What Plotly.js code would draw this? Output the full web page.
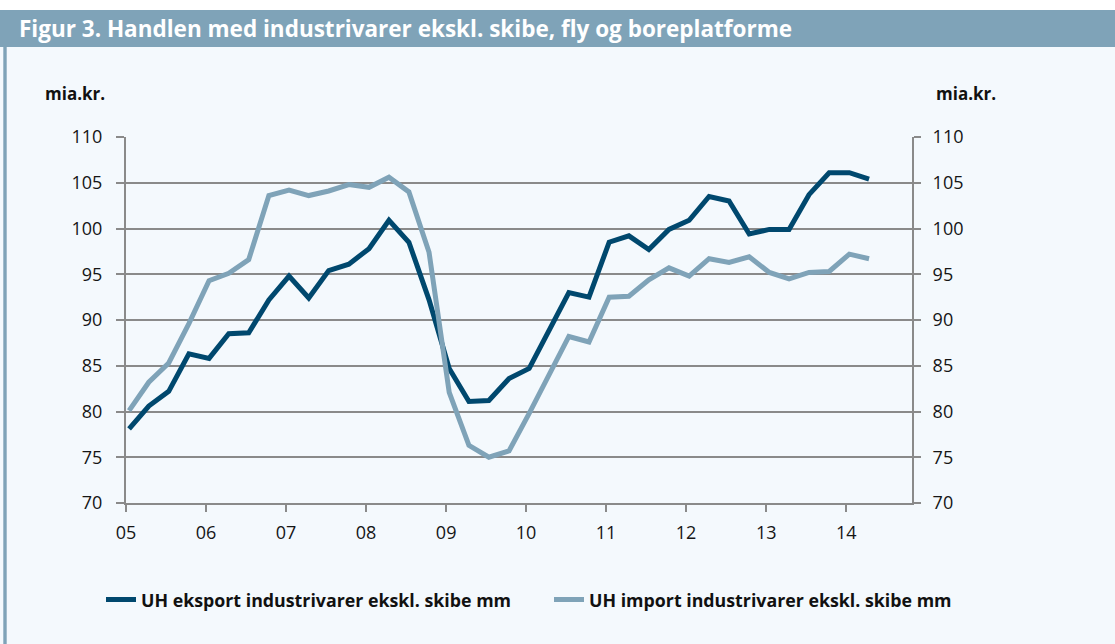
<!DOCTYPE html>
<html>
<head>
<meta charset="utf-8">
<script src="https://cdn.plot.ly/plotly-3.0.1.min.js"></script>
<style>
html,body{margin:0;padding:0;background:#ffffff;}
#chart{width:1115px;height:644px;}
</style>
</head>
<body>
<div id="chart"></div>
<script>
// Quarterly observations (mid-month of each quarter's first month)
const quarters = [
  '2005-01-15','2005-04-15','2005-07-15','2005-10-15',
  '2006-01-15','2006-04-15','2006-07-15','2006-10-15',
  '2007-01-15','2007-04-15','2007-07-15','2007-10-15',
  '2008-01-15','2008-04-15','2008-07-15','2008-10-15',
  '2009-01-15','2009-04-15','2009-07-15','2009-10-15',
  '2010-01-15','2010-04-15','2010-07-15','2010-10-15',
  '2011-01-15','2011-04-15','2011-07-15','2011-10-15',
  '2012-01-15','2012-04-15','2012-07-15','2012-10-15',
  '2013-01-15','2013-04-15','2013-07-15','2013-10-15',
  '2014-01-15','2014-04-15'
];
const eksport = [78.1, 80.6, 82.2, 86.3, 85.8, 88.5, 88.6, 92.2, 94.8, 92.4,
                 95.4, 96.1, 97.8, 100.9, 98.5, 92.2, 84.7, 81.1, 81.2, 83.6,
                 84.7, 88.9, 93.0, 92.5, 98.5, 99.2, 97.7, 99.9, 100.9, 103.5,
                 103.0, 99.4, 99.9, 99.9, 103.7, 106.1, 106.1, 105.4];
const importv = [80.1, 83.2, 85.3, 89.6, 94.3, 95.1, 96.6, 103.6, 104.2, 103.6,
                 104.1, 104.8, 104.5, 105.6, 104.0, 97.4, 82.1, 76.3, 75.0, 75.7,
                 79.8, 84.0, 88.2, 87.6, 92.5, 92.6, 94.4, 95.7, 94.8, 96.7,
                 96.3, 96.9, 95.2, 94.5, 95.2, 95.3, 97.2, 96.7];
const seriesNames = ['UH eksport industrivarer ekskl. skibe mm',
                     'UH import industrivarer ekskl. skibe mm'];
const yTicks = [70, 75, 80, 85, 90, 95, 100, 105, 110];
const xTickVals = ['2005-01-01','2006-01-01','2007-01-01','2008-01-01','2009-01-01',
                   '2010-01-01','2011-01-01','2012-01-01','2013-01-01','2014-01-01'];
const xTickText = ['05','06','07','08','09','10','11','12','13','14'];
const titleText = 'Figur 3. Handlen med industrivarer ekskl. skibe, fly og boreplatforme';
const unitLabel = 'mia.kr.';

const DARK = '#00486e';
const LIGHT = '#7fa3b8';
const BG = '#f4f9fd';
const GRID = '#8a8a8a';
const FONT = '"Open Sans", Lato, sans-serif';

const traces = [
  {x: quarters, y: eksport, name: seriesNames[0], type: 'scatter', mode: 'lines',
   line: {color: DARK, width: 5}, yaxis: 'y'},
  {x: quarters, y: importv, name: seriesNames[1], type: 'scatter', mode: 'lines',
   line: {color: LIGHT, width: 5}, yaxis: 'y'},
  {x: quarters, y: importv, showlegend: false, type: 'scatter', mode: 'lines',
   line: {color: 'rgba(0,0,0,0)', width: 0}, yaxis: 'y2', hoverinfo: 'skip'}
];

// pixel -> paper helpers for decorative frame
const L = 126, R = 203, T = 137, B = 141, W = 1115, H = 644;
const pw = W - L - R, ph = H - T - B;
const px = v => (v - L) / pw;
const py = v => (H - B - v) / ph;

const tickFont = {family: FONT, size: 18, color: '#151515'};

const layout = {
  width: W, height: H,
  margin: {l: L, r: R, t: T, b: B, pad: 0},
  paper_bgcolor: BG,
  plot_bgcolor: BG,
  title: {text: titleText, font: {family: FONT, size: 22.5, color: '#ffffff', weight: 'bold'},
          xref: 'container', yref: 'container', x: 19 / W, xanchor: 'left',
          y: 1 - 29 / H, yanchor: 'middle'},
  xaxis: {
    type: 'date', range: ['2005-01-01', '2014-10-28'],
    tickmode: 'array', tickvals: xTickVals, ticktext: xTickText,
    ticks: 'outside', ticklen: 7, tickwidth: 2, tickcolor: GRID,
    showline: true, linecolor: GRID, linewidth: 2,
    showgrid: false, zeroline: false, tickfont: tickFont, ticklabelstandoff: 5
  },
  yaxis: {
    range: [70, 110], tickmode: 'array', tickvals: yTicks,
    ticks: 'outside', ticklen: 8, tickwidth: 2, tickcolor: GRID,
    showline: true, linecolor: GRID, linewidth: 2,
    showgrid: true, gridcolor: GRID, gridwidth: 2, zeroline: false,
    tickfont: tickFont, ticklabelstandoff: 10
  },
  yaxis2: {
    range: [70, 110], overlaying: 'y', side: 'right', tickmode: 'array', tickvals: yTicks,
    ticks: 'outside', ticklen: 7, tickwidth: 2, tickcolor: GRID,
    showline: true, linecolor: GRID, linewidth: 2,
    showgrid: false, zeroline: false, tickfont: tickFont, ticklabelstandoff: 8
  },
  showlegend: true,
  legend: {
    orientation: 'h', x: px(101), xanchor: 'left', y: py(600), yanchor: 'middle',
    font: {family: FONT, size: 17.8, color: '#111111', weight: 'bold'},
    bgcolor: 'rgba(0,0,0,0)', borderwidth: 0,
    entrywidth: 403, entrywidthmode: 'pixels'
  },
  shapes: [
    {type: 'rect', xref: 'paper', yref: 'paper', x0: px(0), x1: px(W), y0: py(10), y1: py(0),
     fillcolor: '#ffffff', line: {width: 0}, layer: 'below'},
    {type: 'rect', xref: 'paper', yref: 'paper', x0: px(0), x1: px(W), y0: py(47), y1: py(10),
     fillcolor: LIGHT, line: {width: 0}, layer: 'below'},
    {type: 'rect', xref: 'paper', yref: 'paper', x0: px(3.3), x1: px(6.7), y0: py(H), y1: py(47),
     fillcolor: LIGHT, line: {width: 0}, layer: 'below'}
  ],
  annotations: [
    {text: unitLabel, xref: 'paper', yref: 'paper', x: px(43), y: py(93), xanchor: 'left',
     yanchor: 'middle', showarrow: false, font: {family: FONT, size: 17, color: '#111111', weight: 'bold'}},
    {text: unitLabel, xref: 'paper', yref: 'paper', x: px(934), y: py(93), xanchor: 'left',
     yanchor: 'middle', showarrow: false, font: {family: FONT, size: 17, color: '#111111', weight: 'bold'}}
  ]
};

Plotly.newPlot('chart', traces, layout, {staticPlot: true, displayModeBar: false});
</script>
</body>
</html>
